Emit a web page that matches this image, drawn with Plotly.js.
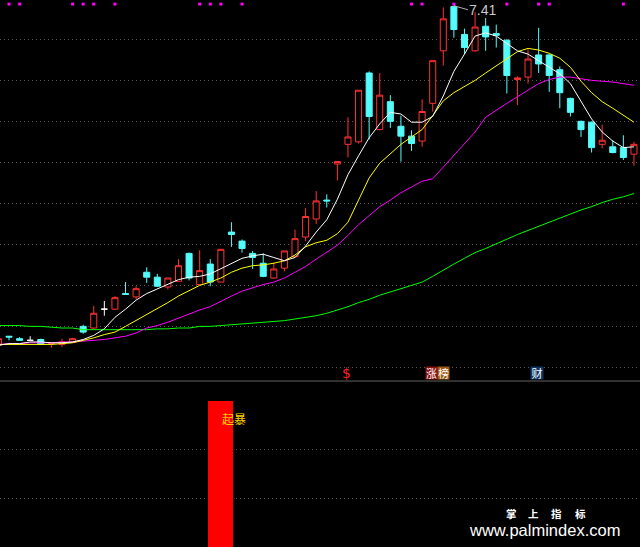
<!DOCTYPE html>
<html><head><meta charset="utf-8">
<script src="https://cdn.plot.ly/plotly-3.0.1.min.js"></script>
<style>html,body{margin:0;padding:0;background:#000;}#chart{width:640px;height:547px;}</style>
</head><body><div id="chart"></div>
<script>
// ---- data (bar index -1 .. 59) ----
const idx = [];
for (let i = -1; i <= 59; i++) idx.push(i);

const open = [3.27,3.38,3.35,3.33,3.34,3.29,3.28,3.31,3.50,3.48,3.71,3.71,3.90,3.86,4.16,4.10,3.98,4.05,4.39,4.01,4.26,4.04,4.65,4.54,4.39,4.27,4.09,4.21,4.35,4.59,4.81,5.04,5.48,5.72,5.75,6.59,5.90,6.24,5.94,5.82,5.76,6.22,6.86,7.40,7.06,6.86,7.16,7.07,6.99,6.51,6.54,6.81,6.81,6.63,6.28,6.00,5.99,5.72,5.69,5.68,5.60];
const high = [3.37,3.38,3.37,3.38,3.35,3.31,3.35,3.36,3.52,3.75,3.81,3.87,4.04,3.99,4.22,4.14,4.09,4.32,4.40,4.43,4.32,4.44,4.77,4.56,4.42,4.39,4.28,4.42,4.68,4.94,5.15,5.11,5.51,6.05,6.38,6.61,6.59,6.32,6.07,5.89,6.27,6.74,7.39,7.41,7.13,7.33,7.26,7.18,7.00,6.55,6.88,7.14,6.82,6.67,6.29,6.01,6.00,5.96,5.77,5.83,5.75];
const low  = [3.26,3.33,3.33,3.33,3.28,3.24,3.25,3.30,3.41,3.47,3.63,3.70,3.89,3.83,4.03,3.98,3.95,4.05,4.06,4.01,3.99,4.04,4.47,4.40,4.20,4.10,4.08,4.17,4.34,4.54,4.75,4.95,5.28,5.56,5.73,5.78,5.89,5.92,5.51,5.64,5.69,6.12,6.68,7.02,6.82,6.85,6.86,6.90,6.34,6.20,6.46,6.59,6.36,6.16,6.06,5.81,5.62,5.67,5.61,5.53,5.46];
const close= [3.35,3.37,3.33,3.33,3.28,3.30,3.31,3.35,3.43,3.66,3.71,3.85,3.89,3.96,4.10,3.99,4.09,4.24,4.09,4.18,4.04,4.44,4.62,4.45,4.34,4.11,4.20,4.42,4.57,4.84,5.03,5.03,5.51,5.81,6.38,6.06,6.32,6.00,5.82,5.73,6.12,6.74,7.25,7.12,6.90,7.15,7.03,7.05,6.56,6.53,6.76,6.70,6.56,6.35,6.11,5.90,5.68,5.77,5.62,5.56,5.72];

const ma5  = [3.27,3.29,3.29,3.31,3.31,3.30,3.30,3.31,3.34,3.39,3.47,3.61,3.71,3.82,3.90,3.96,4.01,4.07,4.10,4.11,4.14,4.20,4.27,4.33,4.36,4.38,4.34,4.30,4.34,4.48,4.65,4.80,5.05,5.35,5.58,5.80,5.97,6.11,6.09,5.99,5.99,6.06,6.31,6.61,6.82,7.04,7.08,7.04,6.95,6.86,6.82,6.74,6.65,6.58,6.46,6.24,6.03,5.87,5.76,5.68,5.69];
const ma10 = [3.28,3.28,3.28,3.28,3.28,3.28,3.29,3.30,3.33,3.36,3.40,3.43,3.50,3.57,3.65,3.72,3.79,3.87,3.94,4.00,4.04,4.09,4.16,4.21,4.24,4.25,4.27,4.30,4.37,4.47,4.52,4.55,4.63,4.77,5.04,5.31,5.49,5.61,5.72,5.81,5.90,6.07,6.25,6.35,6.42,6.50,6.59,6.68,6.77,6.85,6.89,6.87,6.83,6.77,6.66,6.49,6.35,6.24,6.16,6.07,5.99];
const ma20 = [3.28,3.29,3.29,3.30,3.30,3.30,3.31,3.31,3.32,3.33,3.34,3.36,3.38,3.42,3.48,3.51,3.55,3.60,3.65,3.70,3.74,3.81,3.87,3.93,3.97,4.01,4.04,4.09,4.16,4.23,4.32,4.41,4.49,4.61,4.74,4.85,4.96,5.04,5.13,5.20,5.27,5.30,5.44,5.58,5.72,5.87,6.05,6.14,6.22,6.30,6.38,6.46,6.51,6.54,6.54,6.52,6.50,6.49,6.48,6.46,6.44];
const ma60 = [3.51,3.51,3.51,3.50,3.50,3.49,3.48,3.48,3.46,3.46,3.46,3.46,3.46,3.46,3.46,3.47,3.47,3.48,3.48,3.50,3.50,3.51,3.52,3.53,3.54,3.55,3.56,3.57,3.59,3.61,3.63,3.66,3.70,3.74,3.79,3.83,3.88,3.92,3.96,4.00,4.04,4.11,4.19,4.26,4.33,4.40,4.45,4.51,4.57,4.62,4.67,4.72,4.77,4.82,4.87,4.92,4.96,5.01,5.05,5.08,5.12];

const topDotIdx = [0,1,6,7,8,10,18,19,20,22,38,39,42,47,50,51,58];
const topDotLevel = 7.43;

const signalIdx = [20];
const signalVal = [100];
const signalText = '起暴';

const gridVals = [3.0,3.5,4.0,4.5,5.0,5.5,6.0,6.5,7.0];
const subGridVals = [33.33,66.67];

const peakIdx = 42;
const peakLabel = '7.41';

// ---- build ----
const flat = close.map((c,i)=>c===open[i]);
const sel = (arr, want) => arr.filter((_,i)=>flat[i]===want);

const RED = '#FF3232', CYAN = '#54FCFC';
const traces = [
  {type:'candlestick', x:sel(idx,false), open:sel(open,false), high:sel(high,false), low:sel(low,false), close:sel(close,false),
   increasing:{line:{color:RED,width:1}, fillcolor:'#000000'},
   decreasing:{line:{color:CYAN,width:1}, fillcolor:CYAN},
   whiskerwidth:0, hoverinfo:'skip', xaxis:'x', yaxis:'y'},
  {type:'candlestick', x:sel(idx,true), open:sel(open,true), high:sel(high,true), low:sel(low,true), close:sel(close,true),
   increasing:{line:{color:'#FFFFFF',width:1}, fillcolor:'#FFFFFF'},
   decreasing:{line:{color:'#FFFFFF',width:1}, fillcolor:'#FFFFFF'},
   whiskerwidth:0, hoverinfo:'skip', xaxis:'x', yaxis:'y'},
  {type:'scatter', mode:'lines', x:idx, y:ma60, line:{color:'#00FF00',width:1}, hoverinfo:'skip'},
  {type:'scatter', mode:'lines', x:idx, y:ma20, line:{color:'#FF00FF',width:1}, hoverinfo:'skip'},
  {type:'scatter', mode:'lines', x:idx, y:ma10, line:{color:'#FFFF00',width:1}, hoverinfo:'skip'},
  {type:'scatter', mode:'lines', x:idx, y:ma5, line:{color:'#FFFFFF',width:1}, hoverinfo:'skip'},
  {type:'scatter', mode:'markers', x:topDotIdx, y:topDotIdx.map(()=>topDotLevel),
   marker:{symbol:'square', size:3, color:'#FF00FF', line:{width:0}}, hoverinfo:'skip'},
  {type:'bar', x:signalIdx, y:signalVal, width:2.36, marker:{color:'#FF0000', line:{width:0}},
   xaxis:'x', yaxis:'y2', hoverinfo:'skip'}
];

const H = 547, SPLIT = 166/547;
const wm = '掌上指标'.split('');
const wmX = [511, 533, 556, 580];
const LBLY = 1-373/H;

const annotations = [
  {x:peakIdx, y:high[idx.indexOf(peakIdx)], xref:'x', yref:'y', text:peakLabel, showarrow:true,
   ax:14, ay:4, arrowhead:0, arrowwidth:1, arrowcolor:'#B0B0B0', xanchor:'left', yanchor:'middle',
   font:{family:'Liberation Sans Narrow, Liberation Sans, Arial', size:14, color:'#C8C8C8'}, borderpad:0},
  {x:31.9, y:LBLY, xref:'x', yref:'paper', text:'$', showarrow:false, xanchor:'center', yanchor:'middle',
   font:{family:'DejaVu Sans', size:14, color:'#FF2020'}},
  {x:39.9, y:LBLY, xref:'x', yref:'paper', text:'涨', showarrow:false, width:11, height:12, xanchor:'center', yanchor:'middle',
   bgcolor:'#8C0F0F', borderpad:0, font:{family:'Noto Sans CJK SC', size:11, color:'#FFFFFF'}},
  {x:41.0, y:LBLY, xref:'x', yref:'paper', text:'榜', showarrow:false, width:11, height:12, xanchor:'center', yanchor:'middle',
   bgcolor:'#9A5A14', borderpad:0, font:{family:'Noto Sans CJK SC', size:11, color:'#FFFFFF'}},
  {x:49.85, y:LBLY, xref:'x', yref:'paper', text:'财', showarrow:false, width:12, height:12, xanchor:'center', yanchor:'middle',
   bgcolor:'#0E3562', borderpad:0, font:{family:'Noto Sans CJK SC', size:11, color:'#FFFFFF'}},
  {x:signalIdx[0], y:87.7, xref:'x', yref:'y2', text:signalText, showarrow:false, xanchor:'left', yanchor:'middle', xshift:-1,
   font:{family:'Noto Sans CJK SC', size:12, color:'#FFD200'}},
  {x:544/640, y:1-530/H, xref:'paper', yref:'paper', text:'www.palmindex.com', showarrow:false,
   xanchor:'center', yanchor:'middle', borderpad:0,
   font:{family:'Liberation Sans, Arial', size:16.5, color:'#FFFFFF'}}
];
wm.forEach((ch,k)=>annotations.push({x:wmX[k]/640, y:1-513.5/H, xref:'paper', yref:'paper', text:'<b>'+ch+'</b>',
  showarrow:false, xanchor:'center', yanchor:'middle', borderpad:0, font:{family:'Noto Sans CJK SC', size:10.5, color:'#FFFFFF'}}));

const layout = {
  width:640, height:547, margin:{l:0,r:0,t:0,b:0,pad:0},
  paper_bgcolor:'#000000', plot_bgcolor:'#000000', showlegend:false,
  boxgap:0.43, boxgroupgap:0, bargap:0,
  xaxis:{range:[-0.85,59.57], showgrid:false, zeroline:false, showticklabels:false, ticks:'',
         rangeslider:{visible:false}, fixedrange:true, anchor:'y2'},
  yaxis:{domain:[SPLIT,1], range:[2.834,7.48], tickvals:gridVals, showticklabels:false, ticks:'',
         gridcolor:'#5A5A5A', griddash:'1px,3px', gridwidth:1, zeroline:false, fixedrange:true},
  yaxis2:{domain:[0,SPLIT], range:[0,113.7], tickvals:subGridVals, showticklabels:false, ticks:'',
         gridcolor:'#5A5A5A', griddash:'1px,3px', gridwidth:1, zeroline:false, fixedrange:true},
  shapes:[{type:'line', xref:'paper', yref:'paper', x0:0, x1:1, y0:SPLIT, y1:SPLIT,
           line:{color:'#606060', width:1}}],
  annotations:annotations
};

Plotly.newPlot('chart', traces, layout, {displayModeBar:false, staticPlot:true});
</script></body></html>
